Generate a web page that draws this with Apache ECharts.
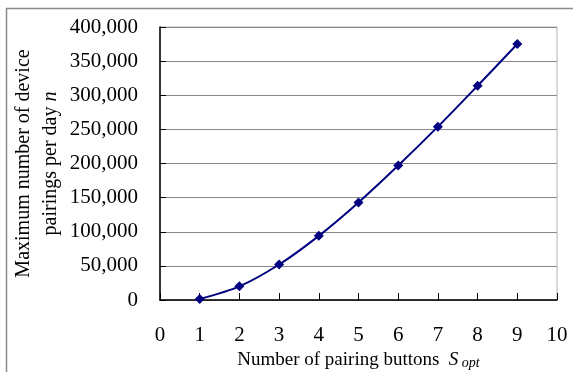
<!DOCTYPE html>
<html>
<head>
<meta charset="utf-8">
<script src="https://cdn.jsdelivr.net/npm/echarts@6/dist/echarts.min.js"></script>
<style>html,body{margin:0;padding:0;background:#fff;}#c{width:573px;height:372px;}</style>
</head>
<body>
<div id="c"></div>
<script>
const buttons = [1, 2, 3, 4, 5, 6, 7, 8, 9];
const pairings = [1500, 20000, 52000, 94000, 143000, 197000, 254000, 314000, 375000];
const xTicks = [0, 1, 2, 3, 4, 5, 6, 7, 8, 9, 10];
const yTicks = [0, 50000, 100000, 150000, 200000, 250000, 300000, 350000, 400000];

const font = '"Liberation Serif", "Times New Roman", serif';
const chart = echarts.init(document.getElementById('c'), null, {renderer: 'canvas'});
chart.setOption({
  animation: false,
  backgroundColor: '#fff',
  graphic: [{
    type: 'rect', silent: true,
    shape: {x: 6.5, y: 8.5, width: 700, height: 500},
    style: {fill: 'none', stroke: '#8a8a8a', lineWidth: 1.5}
  }],
  grid: {left: 160, right: 16, top: 27, bottom: 72, containLabel: false, outerBoundsMode: 'none',
    show: true, borderColor: '#b4b4b4', borderWidth: 1, backgroundColor: 'transparent'},
  xAxis: {
    type: 'value', min: xTicks[0], max: xTicks[xTicks.length - 1], interval: 1,
    axisLine: {show: true, lineStyle: {color: '#000', width: 1.5}},
    axisTick: {show: true, inside: true, length: 7, lineStyle: {color: '#000'}},
    splitLine: {show: false},
    axisLabel: {fontFamily: font, fontSize: 21, color: '#000', margin: 25},
    name: '{t|Number of pairing buttons  }{s|S}{sub| opt}',
    nameLocation: 'middle', nameGap: 50, nameMoveOverlap: false,
    nameTextStyle: {
      rich: {
        t: {fontFamily: font, fontSize: 19, color: '#000'},
        s: {fontFamily: font, fontSize: 19, fontStyle: 'italic', color: '#000'},
        sub: {fontFamily: font, fontSize: 14, fontStyle: 'italic', color: '#000', verticalAlign: 'bottom', padding: [6, 0, 0, 0]}
      }
    }
  },
  yAxis: {
    type: 'value', min: yTicks[0], max: yTicks[yTicks.length - 1], interval: 50000,
    axisLine: {show: true, lineStyle: {color: '#000', width: 1.5}},
    axisTick: {show: true, inside: true, length: 6, lineStyle: {color: '#000'}},
    splitLine: {show: true, lineStyle: {color: '#888', width: 1}},
    axisLabel: {fontFamily: font, fontSize: 21, color: '#000', margin: 22,
      formatter: v => v.toLocaleString('en-US')},
    name: '{t|Maximum number of device}\n{t|pairings per day }{i|n}',
    nameLocation: 'middle', nameGap: 96, nameRotate: 90, nameMoveOverlap: false,
    nameTextStyle: {
      align: 'center',
      lineHeight: 27,
      rich: {
        t: {fontFamily: font, fontSize: 20, color: '#000', lineHeight: 27, align: 'center'},
        i: {fontFamily: font, fontSize: 20, fontStyle: 'italic', color: '#000', lineHeight: 27, align: 'center'}
      }
    }
  },
  series: [{
    type: 'line',
    data: buttons.map((b, i) => [b, pairings[i]]),
    smooth: 0.3,
    symbol: 'diamond', symbolSize: 10,
    lineStyle: {color: '#000080', width: 2},
    itemStyle: {color: '#000080'}
  }]
});
</script>
</body>
</html>
